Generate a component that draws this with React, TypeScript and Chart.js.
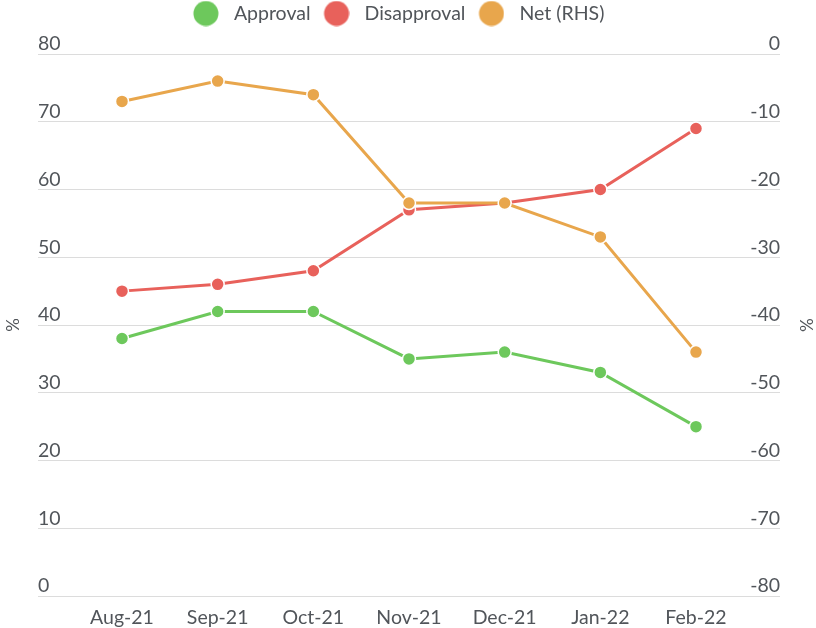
import React, { useEffect, useRef } from 'react';
import { Chart, registerables } from 'chart.js';

Chart.register(...registerables);

const categories = ['Aug-21', 'Sep-21', 'Oct-21', 'Nov-21', 'Dec-21', 'Jan-22', 'Feb-22'];
const approval = [38, 42, 42, 35, 36, 33, 25];
const disapproval = [45, 46, 48, 57, 58, 60, 69];
const net = [-7, -4, -6, -22, -22, -27, -44];
const seriesNames = ['Approval', 'Disapproval', 'Net (RHS)'];
const leftRange = [0, 80];
const rightRange = [-80, 0];
const tickStep = 10;
const axisTitle = '%';

const GREEN = '#6DC85C';
const RED = '#E8615B';
const ORANGE = '#E8A64C';
const TEXT = '#51555a';
const FONT = 'Lato, "Noto Sans", sans-serif';
const FS = 19.5;

function makeDot(color: string) {
  const c = document.createElement('canvas');
  c.width = 30;
  c.height = 26;
  const ctx = c.getContext('2d')!;
  ctx.fillStyle = color;
  ctx.beginPath();
  ctx.arc(17, 13, 12.5, 0, Math.PI * 2);
  ctx.fill();
  return c;
}

export default function App() {
  const ref = useRef<HTMLCanvasElement | null>(null);

  useEffect(() => {
    if (!ref.current) return;
    const colors = [GREEN, RED, ORANGE];
    const dots = colors.map(makeDot);
    const toXY = (arr: number[]) => arr.map((v, i) => ({ x: i, y: v }));

    const legendSpace = {
      id: 'legendSpace',
      beforeInit(chart: any) {
        const lg = chart.legend;
        if (!lg) return;
        const orig = lg.fit;
        lg.fit = function () {
          orig.bind(lg)();
          this.height = 54;
          if (this.lineWidths && this.lineWidths.length) this.lineWidths[0] += 28;
        };
      },
    };

    const mk = (label: string, data: number[], color: string, axis: string, order: number) => ({
      label,
      data: toXY(data),
      yAxisID: axis,
      order,
      borderColor: color,
      backgroundColor: color,
      borderWidth: 3,
      pointRadius: 6.5,
      pointHoverRadius: 6.5,
      pointBackgroundColor: color,
      pointBorderColor: '#ffffff',
      pointBorderWidth: 1.5,
      tension: 0,
    });

    const chart = new Chart(ref.current, {
      type: 'line',
      data: {
        datasets: [
          mk(seriesNames[0], approval, GREEN, 'y', 3),
          mk(seriesNames[1], disapproval, RED, 'y', 2),
          mk(seriesNames[2], net, ORANGE, 'y1', 1),
        ],
      },
      plugins: [legendSpace],
      options: {
        responsive: false,
        animation: false,
        layout: { padding: 0 },
        plugins: {
          tooltip: { enabled: false },
          legend: {
            position: 'top',
            labels: {
              usePointStyle: true,
              pointStyleWidth: 40.5,
              padding: 3.75,
              color: TEXT,
              font: { family: FONT, size: FS },
              generateLabels: (chart: any) => {
                const items = (Chart.defaults.plugins.legend.labels as any).generateLabels(chart);
                return items
                  .slice()
                  .sort((a: any, b: any) => a.datasetIndex - b.datasetIndex)
                  .map((it: any) => ({
                    ...it,
                    pointStyle: dots[it.datasetIndex],
                    lineWidth: 0,
                    strokeStyle: 'rgba(0,0,0,0)',
                  }));
              },
            },
          },
        },
        scales: {
          x: {
            type: 'linear',
            min: -0.878,
            max: 6.878,
            grid: { display: false, drawTicks: false },
            border: { display: false },
            afterBuildTicks: (scale: any) => {
              scale.ticks = categories.map((_, i) => ({ value: i }));
            },
            afterFit: (scale: any) => {
              scale.height = 32;
            },
            ticks: {
              padding: 10,
              color: TEXT,
              font: { family: FONT, size: FS },
              maxRotation: 0,
              autoSkip: false,
              callback: (v: any) => categories[Math.round(Number(v))] ?? '',
            },
          },
          y: {
            position: 'left',
            min: leftRange[0],
            max: leftRange[1],
            grid: { color: '#dcdcdc', lineWidth: 1, drawTicks: false },
            border: { display: false },
            afterFit: (scale: any) => {
              scale.width = 38;
            },
            title: {
              display: true,
              text: axisTitle,
              color: TEXT,
              font: { family: FONT, size: 17 },
              padding: { top: 3, bottom: 0 },
            },
            ticks: {
              stepSize: tickStep,
              mirror: true,
              padding: 0,
              labelOffset: -10,
              color: TEXT,
              font: { family: FONT, size: FS },
            },
          },
          y1: {
            position: 'right',
            min: rightRange[0],
            max: rightRange[1],
            grid: { display: false, drawTicks: false },
            border: { display: false },
            afterFit: (scale: any) => {
              scale.width = 36;
            },
            title: {
              display: true,
              text: axisTitle,
              color: TEXT,
              font: { family: FONT, size: 17 },
              padding: { top: 0, bottom: 0 },
            },
            ticks: {
              stepSize: tickStep,
              mirror: true,
              padding: 0,
              labelOffset: -10,
              color: TEXT,
              font: { family: FONT, size: FS },
            },
          },
        },
      } as any,
    });
    return () => chart.destroy();
  }, []);

  return (
    <div style={{ position: 'fixed', left: 0, top: 0, width: 816, height: 628, background: '#fff' }}>
      <canvas ref={ref} width={816} height={628} style={{ display: 'block' }} />
    </div>
  );
}
